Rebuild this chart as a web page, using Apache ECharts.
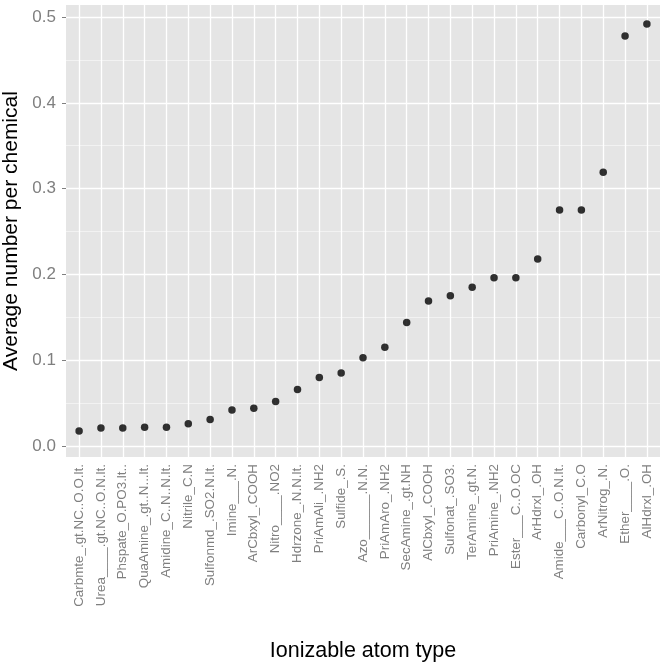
<!DOCTYPE html>
<html>
<head>
<meta charset="utf-8">
<script src="https://cdn.jsdelivr.net/npm/echarts@6/dist/echarts.min.js"></script>
<style>
  html, body { margin: 0; padding: 0; background: #fff; }
  #chart { width: 663px; height: 668px; }
</style>
</head>
<body>
<div id="chart"></div>
<script>
// atom types, ordered as in the plot
const categories = [
  'Carbmte_.gt.NC..O.O.lt.', 'Urea____.gt.NC..O.N.lt.', 'Phspate_O.PO3.lt..',
  'QuaAmine_.gt..N...lt.', 'Amidine_C..N..N.lt.', 'Nitrile_C.N',
  'Sulfonmd_.SO2.N.lt.', 'Imine___.N.', 'ArCbxyl_.COOH',
  'Nitro____.NO2', 'Hdrzone_.N.N.lt.', 'PriAmAli_.NH2',
  'Sulfide_.S.', 'Azo______.N.N.', 'PriAmAro_.NH2',
  'SecAmine_.gt.NH', 'AlCbxyl_.COOH', 'Sulfonat_.SO3.',
  'TerAmine_.gt.N.', 'PriAmine_.NH2', 'Ester___C..O.OC',
  'ArHdrxl_.OH', 'Amide___C..O.N.lt.', 'Carbonyl_C.O',
  'ArNitrog_.N.', 'Ether____.O.', 'AlHdrxl_.OH'
];
const avgPerChemical = [
  0.0175, 0.021, 0.021, 0.022, 0.022, 0.026,
  0.031, 0.042, 0.044, 0.052, 0.066, 0.080,
  0.085, 0.103, 0.115, 0.144, 0.169, 0.175,
  0.185, 0.196, 0.196, 0.218, 0.275, 0.275,
  0.319, 0.478, 0.492
];
const yTicks = [0, 0.1, 0.2, 0.3, 0.4, 0.5];
const yMinor = [0.05, 0.15, 0.25, 0.35, 0.45];

const xPos = categories.map((_, i) => i + 1);

const chart = echarts.init(document.getElementById('chart'), null, { renderer: 'canvas' });

const font = '"Liberation Sans", Arial, sans-serif';

const gridLine = (color, width) => ({
  silent: true,
  symbol: 'none',
  animation: false,
  z: 1,
  label: { show: false },
  lineStyle: { color: color, width: width, type: 'solid' },
  emphasis: { disabled: true }
});

const option = {
  animation: false,
  backgroundColor: '#fff',
  grid: {
    left: 66, right: 3, top: 5, bottom: 211,
    containLabel: false,
    outerBoundsMode: 'none',
    show: true, backgroundColor: '#E5E5E5', borderWidth: 0
  },
  xAxis: {
    type: 'value',
    min: 0.4,
    max: 27.6,
    name: 'Ionizable atom type',
    nameLocation: 'middle',
    nameGap: 183,
    nameTextStyle: { fontFamily: font, fontSize: 21.5, color: '#000' },
    axisLine: { show: false },
    splitLine: { show: false },
    axisTick: {
      show: true, customValues: xPos, length: 4, inside: false,
      lineStyle: { color: '#7F7F7F', width: 1 }
    },
    axisLabel: {
      customValues: xPos,
      rotate: 90,
      margin: 7,
      fontFamily: font,
      fontSize: 13.4,
      color: '#7F7F7F',
      formatter: v => categories[Math.round(v) - 1] || ''
    }
  },
  yAxis: {
    type: 'value',
    min: -0.0128,
    max: 0.514,
    name: 'Average number per chemical',
    nameLocation: 'middle',
    nameGap: 40,
    nameTextStyle: { fontFamily: font, fontSize: 21, color: '#000' },
    axisLine: { show: false },
    splitLine: { show: false },
    axisTick: {
      show: true, customValues: yTicks, length: 4,
      lineStyle: { color: '#7F7F7F', width: 1 }
    },
    axisLabel: {
      customValues: yTicks,
      margin: 10,
      fontFamily: font,
      fontSize: 17,
      color: '#7F7F7F',
      formatter: v => v.toFixed(1)
    }
  },
  series: [
    {
      type: 'scatter', data: [], z: 1, silent: true,
      markLine: Object.assign(gridLine('#F2F2F2', 1),
        { data: yMinor.map(v => ({ yAxis: v })) })
    },
    {
      type: 'scatter', data: [], z: 1, silent: true,
      markLine: Object.assign(gridLine('#FFFFFF', 1.3),
        { data: yTicks.map(v => ({ yAxis: v })).concat(xPos.map(v => ({ xAxis: v }))) })
    },
    {
      type: 'scatter',
      z: 10,
      symbol: 'circle',
      symbolSize: 7.5,
      itemStyle: { color: '#000' },
      data: avgPerChemical.map((v, i) => [xPos[i], v])
    }
  ]
};

chart.setOption(option);
</script>
</body>
</html>
